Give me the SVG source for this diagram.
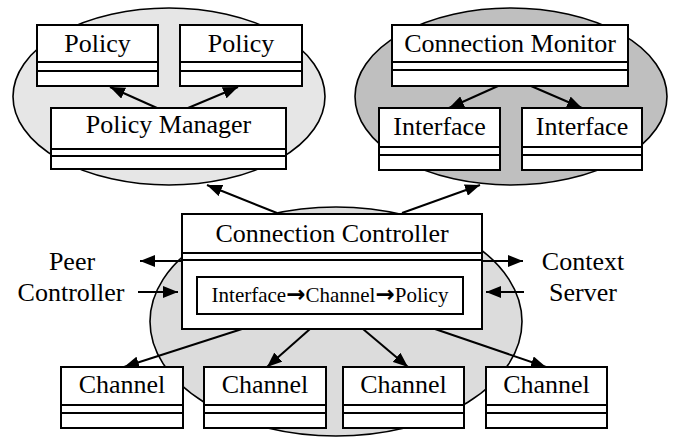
<svg xmlns="http://www.w3.org/2000/svg" width="674" height="438" viewBox="0 0 674 438">
<style>
.box{fill:#fff;stroke:#000;stroke-width:2}
.sep{stroke:#000;stroke-width:2}
.ell{stroke:#000;stroke-width:1.6}
.t{font-family:"Liberation Serif","Times New Roman",serif;font-size:26px;fill:#000;text-anchor:middle}
.ts{font-family:"Liberation Serif","Times New Roman",serif;font-size:21px;fill:#000;text-anchor:middle}
.ar{font-family:"DejaVu Sans",sans-serif;font-size:23px;font-weight:bold}
.c{stroke:#000;stroke-width:2;fill:none;marker-end:url(#ah)}
</style>
<defs>
<marker id="ah" markerUnits="userSpaceOnUse" markerWidth="15" markerHeight="12" viewBox="0 0 15 12" refX="15" refY="6" orient="auto">
<path d="M0,0 L15,6 L0,12 Z" fill="#000"/>
</marker>
</defs>
<g id="groups">
<ellipse id="policy-group" class="ell" cx="169" cy="96.5" rx="156" ry="88.5" fill="#e6e6e6"/>
<ellipse id="monitor-group" class="ell" cx="511" cy="96.5" rx="156" ry="88.5" fill="#bfbfbf"/>
<ellipse id="controller-group" class="ell" cx="336" cy="321.5" rx="186" ry="114.5" fill="#dcdcdc"/>
</g>
<g id="connectors">
<line class="c" x1="157" y1="108" x2="110" y2="87"/>
<line class="c" x1="188" y1="108" x2="238" y2="87"/>
<line class="c" x1="498" y1="86" x2="449" y2="108"/>
<line class="c" x1="531" y1="86" x2="582" y2="108"/>
<line class="c" x1="277" y1="213" x2="207" y2="185"/>
<line class="c" x1="402" y1="213" x2="480" y2="185"/>
<line class="c" x1="181" y1="261" x2="140" y2="261"/>
<line class="c" x1="138" y1="292" x2="178" y2="292"/>
<line class="c" x1="482" y1="261" x2="523" y2="261"/>
<line class="c" x1="524" y1="292" x2="486" y2="292"/>
<line class="c" x1="242" y1="329" x2="124" y2="367"/>
<line class="c" x1="310" y1="329" x2="267" y2="367"/>
<line class="c" x1="363" y1="329" x2="408" y2="367"/>
<line class="c" x1="435" y1="329" x2="546" y2="367"/>
</g>
<g id="policy1">
<rect class="box" x="37" y="25" width="121" height="61"/>
<line class="sep" x1="37" y1="62" x2="158" y2="62"/><line class="sep" x1="37" y1="71" x2="158" y2="71"/>
<text class="t" x="97.5" y="52">Policy</text>
</g>
<g id="policy2">
<rect class="box" x="180" y="25" width="122" height="61"/>
<line class="sep" x1="180" y1="62" x2="302" y2="62"/><line class="sep" x1="180" y1="71" x2="302" y2="71"/>
<text class="t" x="241" y="52">Policy</text>
</g>
<g id="policy-manager">
<rect class="box" x="51" y="108" width="235" height="61"/>
<line class="sep" x1="51" y1="149" x2="286" y2="149"/><line class="sep" x1="51" y1="156" x2="286" y2="156"/>
<text class="t" x="168.5" y="133">Policy Manager</text>
</g>
<g id="connection-monitor">
<rect class="box" x="392" y="25" width="236" height="61"/>
<line class="sep" x1="392" y1="62" x2="628" y2="62"/><line class="sep" x1="392" y1="70" x2="628" y2="70"/>
<text class="t" x="510" y="52">Connection Monitor</text>
</g>
<g id="interface1">
<rect class="box" x="379" y="108" width="121" height="62"/>
<line class="sep" x1="379" y1="147" x2="500" y2="147"/><line class="sep" x1="379" y1="155" x2="500" y2="155"/>
<text class="t" x="439.5" y="135">Interface</text>
</g>
<g id="interface2">
<rect class="box" x="522" y="108" width="120" height="62"/>
<line class="sep" x1="522" y1="147" x2="642" y2="147"/><line class="sep" x1="522" y1="155" x2="642" y2="155"/>
<text class="t" x="582" y="135">Interface</text>
</g>
<g id="connection-controller">
<rect class="box" x="182" y="214" width="300" height="115"/>
<line class="sep" x1="182" y1="253" x2="482" y2="253"/><line class="sep" x1="182" y1="260" x2="482" y2="260"/>
<text class="t" x="332" y="242">Connection Controller</text>
<rect class="box" x="197" y="277" width="266" height="37"/>
<text class="ts" x="330" y="302">Interface<tspan class="ar">→</tspan>Channel<tspan class="ar">→</tspan>Policy</text>
</g>
<g id="peer-controller">
<text class="t" x="72" y="270">Peer</text>
<text class="t" x="71" y="301">Controller</text>
</g>
<g id="context-server">
<text class="t" x="583" y="270">Context</text>
<text class="t" x="583" y="301">Server</text>
</g>
<g id="channel1">
<rect class="box" x="61" y="367" width="122" height="61"/>
<line class="sep" x1="61" y1="405" x2="183" y2="405"/><line class="sep" x1="61" y1="413" x2="183" y2="413"/>
<text class="t" x="122" y="393">Channel</text>
</g>
<g id="channel2">
<rect class="box" x="204" y="367" width="122" height="61"/>
<line class="sep" x1="204" y1="405" x2="326" y2="405"/><line class="sep" x1="204" y1="413" x2="326" y2="413"/>
<text class="t" x="265" y="393">Channel</text>
</g>
<g id="channel3">
<rect class="box" x="343" y="367" width="121" height="61"/>
<line class="sep" x1="343" y1="405" x2="464" y2="405"/><line class="sep" x1="343" y1="413" x2="464" y2="413"/>
<text class="t" x="403.5" y="393">Channel</text>
</g>
<g id="channel4">
<rect class="box" x="486" y="367" width="121" height="61"/>
<line class="sep" x1="486" y1="405" x2="607" y2="405"/><line class="sep" x1="486" y1="413" x2="607" y2="413"/>
<text class="t" x="546.5" y="393">Channel</text>
</g>
</svg>
